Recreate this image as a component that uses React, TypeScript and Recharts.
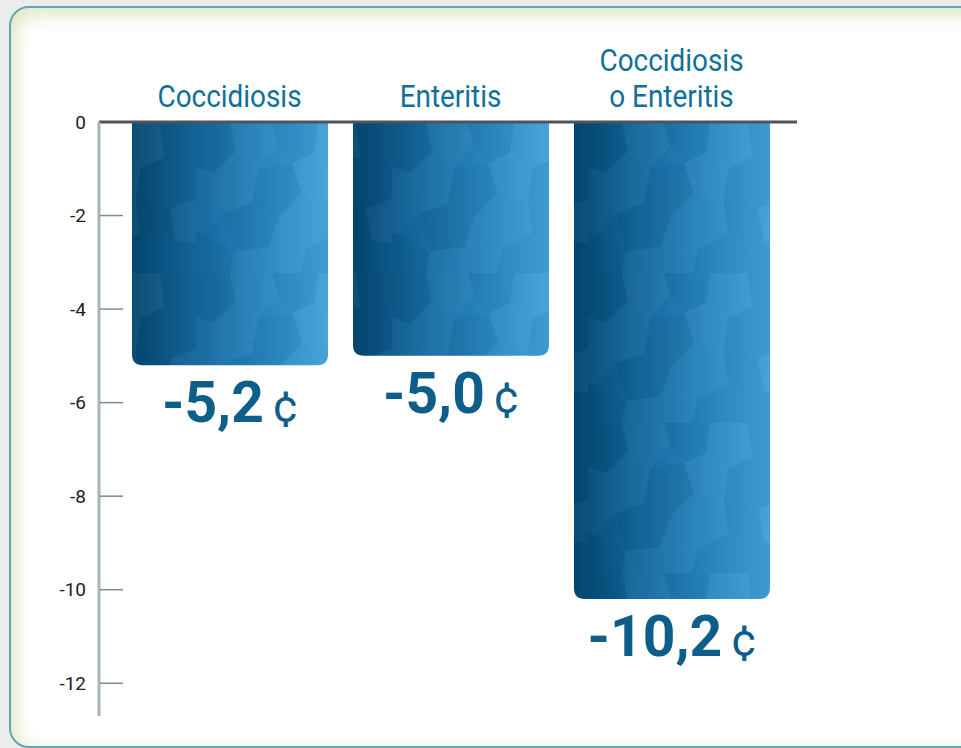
import React from 'react';
import { BarChart, Bar, XAxis, YAxis, ReferenceLine, LabelList } from 'recharts';

// chart data
const categories = ['Coccidiosis', 'Enteritis', 'Coccidiosis\no Enteritis'];
const values = [-5.2, -5.0, -10.2];
const valueLabels = ['-5,2', '-5,0', '-10,2'];
const yTicks = [0, -2, -4, -6, -8, -10, -12];

const data = categories.map((name, i) => ({ name, value: values[i], label: valueLabels[i] }));

const FONT = "Roboto, 'DejaVu Sans', sans-serif";
const TICK_MARGIN = 13;

// category names above the zero line
const CategoryTick = (props: any) => {
  const { x, y, payload } = props;
  const lines = String(payload.value).split('\n');
  return (
    <g transform={`translate(${x},${y})`}>
      {lines.map((line, i) => (
        <text
          key={i}
          transform="scale(0.9,1)"
          x={0}
          y={-1 - (lines.length - 1 - i) * 36}
          textAnchor="middle"
          fontFamily={FONT}
          fontSize={31}
          fill="#10709a"
        >
          {line}
        </text>
      ))}
    </g>
  );
};

// y ticks: label on the left, tick mark drawn inside the plot
const ValueTick = (props: any) => {
  const { x, y, payload } = props;
  return (
    <g>
      <text
        x={x}
        y={y}
        textAnchor="end"
        dominantBaseline="central"
        fontFamily={FONT}
        fontSize={19}
        fill="#1e1e1e"
      >
        {payload.value}
      </text>
      {payload.value !== 0 && (
        <line x1={x + TICK_MARGIN + 1} y1={y} x2={x + TICK_MARGIN + 24} y2={y} stroke="#7d8c92" strokeWidth={1.5} />
      )}
    </g>
  );
};

// bar with rounded bottom corners
const RoundedBar = (props: any) => {
  const { x, y, width, height } = props;
  const top = Math.min(y, y + height);
  const h = Math.abs(height);
  const r = Math.min(11, h / 2);
  const d = `M${x},${top} H${x + width} V${top + h - r} Q${x + width},${top + h} ${x + width - r},${top + h} H${x + r} Q${x},${top + h} ${x},${top + h - r} Z`;
  return (
    <g>
      <path d={d} fill="url(#barGrad)" />
      <path d={d} fill="url(#barCells)" />
    </g>
  );
};

const ValueLabel = (props: any) => {
  const { x, y, width, height, value } = props;
  const bottom = Math.max(y, y + height);
  return (
    <text x={x + width / 2} y={bottom + 57} textAnchor="middle" fontFamily={FONT} fill="#0d5f89">
      <tspan fontSize={57} fontWeight={700}>{value}</tspan>
      <tspan fontSize={46} fontWeight={400} dx={9}>¢</tspan>
    </text>
  );
};

export default function App() {
  return (
    <div style={{ position: 'fixed', left: 0, top: 0, width: 961, height: 748, background: '#ececec', overflow: 'hidden' }}>
      <div
        style={{
          position: 'absolute',
          left: 9,
          top: 6,
          width: 1000,
          height: 738,
          border: '2px solid #62a5b2',
          borderRadius: 20,
          background: '#ffffff',
          boxShadow: 'inset 0 10px 16px rgba(214, 226, 178, 0.55), inset 8px 0 14px rgba(214, 226, 178, 0.45)',
        }}
      />
      <div style={{ position: 'absolute', left: 0, top: 0 }}>
        <BarChart
          width={961}
          height={748}
          data={data}
          margin={{ top: 112, right: 164, bottom: 32, left: 39 }}
          barSize={196}
        >
          <defs>
            <linearGradient id="barGrad" x1="0" y1="0" x2="1" y2="0">
              <stop offset="0%" stopColor="#03466f" />
              <stop offset="30%" stopColor="#12659a" />
              <stop offset="65%" stopColor="#2683bb" />
              <stop offset="100%" stopColor="#40a0d7" />
            </linearGradient>
            <pattern id="barCells" patternUnits="userSpaceOnUse" width="196" height="150" x="0" y="123">
              <polygon points="0,0 34,0 40,28 18,50 0,44" fill="#000" fillOpacity="0.05" />
              <polygon points="34,0 76,0 82,22 62,46 40,28" fill="#fff" fillOpacity="0.035" />
              <polygon points="76,0 122,0 118,30 96,40 82,22" fill="#000" fillOpacity="0.03" />
              <polygon points="122,0 160,0 164,34 140,46 118,30" fill="#fff" fillOpacity="0.04" />
              <polygon points="160,0 196,0 196,40 164,34" fill="#000" fillOpacity="0.03" />
              <polygon points="18,50 40,28 62,46 56,80 28,90" fill="#fff" fillOpacity="0.03" />
              <polygon points="62,46 96,40 106,70 84,92 56,80" fill="#000" fillOpacity="0.04" />
              <polygon points="96,40 118,30 140,46 136,78 106,70" fill="#fff" fillOpacity="0.045" />
              <polygon points="140,46 164,34 196,40 196,76 170,86 136,78" fill="#000" fillOpacity="0.03" />
              <polygon points="0,44 18,50 28,90 8,112 0,110" fill="#fff" fillOpacity="0.025" />
              <polygon points="28,90 56,80 84,92 72,124 38,128" fill="#000" fillOpacity="0.04" />
              <polygon points="84,92 106,70 136,78 140,110 110,126 72,124" fill="#fff" fillOpacity="0.03" />
              <polygon points="136,78 170,86 176,118 140,110" fill="#000" fillOpacity="0.035" />
              <polygon points="170,86 196,76 196,120 176,118" fill="#fff" fillOpacity="0.03" />
              <polygon points="0,110 8,112 38,128 34,150 0,150" fill="#000" fillOpacity="0.035" />
              <polygon points="38,128 72,124 110,126 104,150 34,150" fill="#fff" fillOpacity="0.03" />
              <polygon points="110,126 140,110 176,118 196,120 196,150 104,150" fill="#000" fillOpacity="0.025" />
            </pattern>
          </defs>
          <XAxis
            dataKey="name"
            orientation="top"
            height={10}
            axisLine={false}
            tickLine={false}
            tickSize={0}
            tickMargin={14}
            padding={{ left: 20, right: 15 }}
            tick={<CategoryTick />}
            interval={0}
          />
          <YAxis
            type="number"
            width={60}
            domain={[-12.7, 0]}
            ticks={yTicks}
            tickLine={false}
            tickSize={0}
            tickMargin={TICK_MARGIN}
            axisLine={{ stroke: '#a7b5ba', strokeWidth: 3 }}
            tick={<ValueTick />}
            interval={0}
          />
          <Bar dataKey="value" isAnimationActive={false} shape={<RoundedBar />}>
            <LabelList dataKey="label" content={<ValueLabel />} />
          </Bar>
          <ReferenceLine y={0} stroke="#4f5459" strokeWidth={3} />
        </BarChart>
      </div>
    </div>
  );
}
